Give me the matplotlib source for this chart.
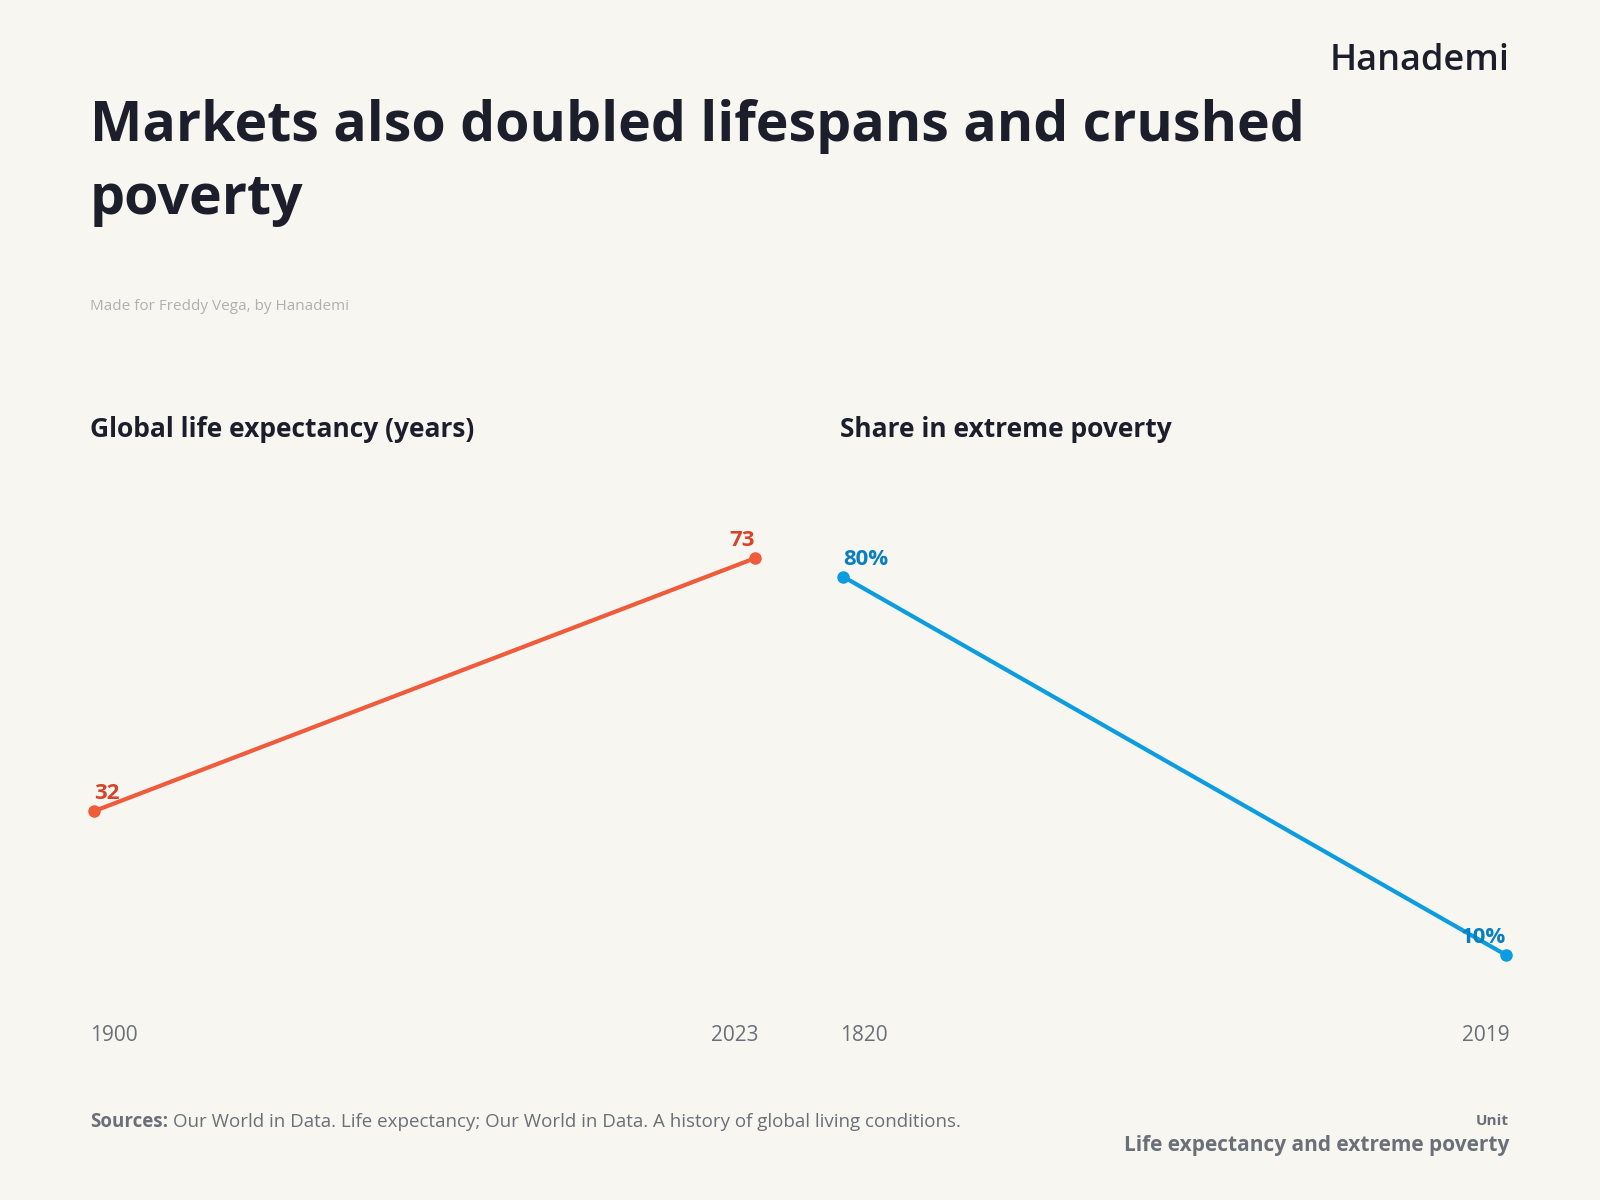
import matplotlib
matplotlib.use("Agg")
import matplotlib.pyplot as plt

life_years = [1900, 2023]
life_values = [32, 73]
pov_years = [1820, 2019]
pov_values = [80, 10]

plt.rcParams['font.family'] = ['Open Sans', 'DejaVu Sans']
W, H = 1568, 1176
fig = plt.figure(figsize=(16, 12), dpi=100, facecolor='#f7f6f1')
def fx(px): return px / W
def fy(py): return 1 - py / H

dark = '#1c1f2b'
grey = '#6b6f78'
fig.text(fx(1479), fy(60), 'Hanademi', ha='right', va='center', fontsize=26, fontweight='semibold', color=dark)
fig.text(fx(88), fy(97), 'Markets also doubled lifespans and crushed\npoverty', ha='left', va='top',
         fontsize=40, fontweight='bold', color=dark, linespacing=1.42)
fig.text(fx(88), fy(300), 'Made for Freddy Vega, by Hanademi', ha='left', va='center', fontsize=11, color='#b0b0b0')
fig.text(fx(88), fy(421), 'Global life expectancy (years)', ha='left', va='center', fontsize=19, fontweight='bold', color=dark)
fig.text(fx(823), fy(421), 'Share in extreme poverty', ha='left', va='center', fontsize=19, fontweight='bold', color=dark)

def panel(x0, x1, years, vals, ylim, color, lcolor, fmt):
    ax = fig.add_axes([fx(x0), fy(1000), fx(x1) - fx(x0), fy(500) - fy(1000)])
    ax.set_facecolor('none')
    ax.plot(years, vals, color=color, lw=3, marker='o', ms=8, clip_on=False)
    ax.set_xlim(years[0], years[1])
    ax.set_ylim(*ylim)
    ax.axis('off')
    ax.annotate(fmt(vals[0]), (years[0], vals[0]), xytext=(0, 5), textcoords='offset points',
                ha='left', va='bottom', fontsize=16, fontweight='bold', color=lcolor)
    ax.annotate(fmt(vals[1]), (years[1], vals[1]), xytext=(0, 5), textcoords='offset points',
                ha='right', va='bottom', fontsize=16, fontweight='bold', color=lcolor)
    return ax

panel(92, 740, life_years, life_values, (-1.89, 80.77), '#ef5b3b', '#d8432a', lambda v: f'{v}')
panel(826, 1476, pov_years, pov_values, (-2.08, 92.26), '#0b9de0', '#0a7fc0', lambda v: f'{v}%')

for x, t, ha in [(88, '1900', 'left'), (743, '2023', 'right'), (823, '1820', 'left'), (1479, '2019', 'right')]:
    fig.text(fx(x), fy(1015), t, ha=ha, va='center', fontsize=15, color=grey)

fig.text(fx(88), fy(1100), 'Sources:', ha='left', va='center', fontsize=13.5, fontweight='bold', color=grey)
fig.text(fx(170), fy(1100), 'Our World in Data. Life expectancy; Our World in Data. A history of global living conditions.',
         ha='left', va='center', fontsize=13.5, color=grey)
fig.text(fx(1479), fy(1099), 'Unit', ha='right', va='center', fontsize=11, fontweight='bold', color=grey)
fig.text(fx(1479), fy(1123), 'Life expectancy and extreme poverty', ha='right', va='center', fontsize=15, fontweight='bold', color=grey)

fig.savefig('out.png', dpi=100, facecolor=fig.get_facecolor())
